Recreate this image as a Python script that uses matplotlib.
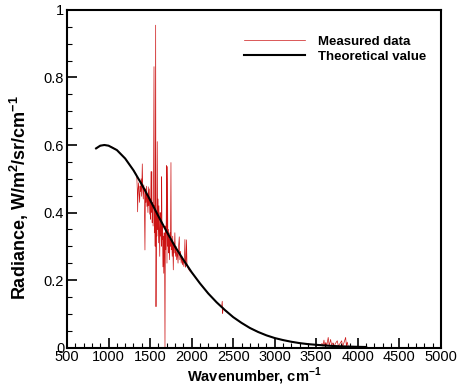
import matplotlib
matplotlib.use("Agg")
import matplotlib.pyplot as plt
from matplotlib.ticker import MultipleLocator, FuncFormatter

plt.rcParams['font.family'] = ['Liberation Sans', 'DejaVu Sans']
plt.rcParams['mathtext.fontset'] = 'custom'
plt.rcParams['mathtext.rm'] = 'Liberation Sans'
plt.rcParams['mathtext.bf'] = 'Liberation Sans:bold'

# theoretical radiance curve
wn_theory = [850, 900, 950, 1000, 1100, 1200, 1300, 1400, 1500, 1600,
             1700, 1800, 1900, 2000, 2100, 2200, 2300, 2400, 2500, 2600,
             2700, 2800, 2900, 3000, 3100, 3200, 3300, 3400, 3500, 3600,
             3700, 3800, 3900, 4000, 4100]
rad_theory = [0.590, 0.598, 0.600, 0.598, 0.585, 0.560, 0.525, 0.483, 0.437, 0.389,
              0.343, 0.299, 0.260, 0.223, 0.190, 0.160, 0.134, 0.111, 0.090, 0.073,
              0.058, 0.046, 0.036, 0.028, 0.022, 0.017, 0.013, 0.010, 0.008, 0.006,
              0.0045, 0.0035, 0.0027, 0.002, 0.0015]

# measured spectrum
wn_meas = [850, 900, 950, 1000, 1050, 1100, 1150, 1200, 1250, 1300, 1330,
           1340, 1346, 1350, 1356, 1362, 1368, 1374, 1380, 1386, 1392, 1398,
           1406, 1412, 1418, 1424, 1430, 1438, 1444, 1450, 1456, 1462, 1468,
           1474, 1478, 1484, 1490, 1496, 1502, 1506, 1511, 1516, 1520, 1525,
           1530, 1536, 1541, 1547, 1551, 1556, 1561, 1567, 1571, 1576, 1581,
           1586, 1591, 1596, 1601, 1606, 1611, 1616, 1621, 1626, 1631, 1636,
           1639, 1644, 1649, 1654, 1659, 1664, 1669, 1674, 1679, 1684, 1689,
           1694, 1699, 1703, 1709, 1714, 1719, 1724, 1729, 1734, 1740, 1745,
           1751, 1755, 1760, 1766, 1772, 1779, 1785, 1791, 1798, 1805, 1812,
           1820, 1828, 1836, 1843, 1851, 1858, 1866, 1874, 1882, 1890, 1898,
           1906, 1912, 1919, 1926, 1932, 1938, 1944, 1952, 1960, 1970, 1980,
           1990, 2000, 2100, 2200, 2300, 2360, 2368, 2373, 2378, 2400, 2500,
           2600, 2700, 2800, 2900, 3000, 3100, 3200, 3300, 3400, 3500, 3550,
           3570, 3580, 3592, 3600, 3615, 3625, 3643, 3655, 3672, 3685, 3700,
           3715, 3730, 3752, 3765, 3780, 3805, 3815, 3830, 3853, 3862, 3872,
           3884, 3900, 4000, 4100]
rad_meas = [0.589, 0.597, 0.600, 0.598, 0.593, 0.585, 0.573, 0.560, 0.543, 0.526, 0.514,
            0.505, 0.467, 0.402, 0.470, 0.488, 0.455, 0.430, 0.478, 0.462, 0.500, 0.448,
            0.544, 0.470, 0.440, 0.482, 0.452, 0.289, 0.470, 0.430, 0.478, 0.418, 0.445,
            0.400, 0.476, 0.420, 0.470, 0.395, 0.440, 0.380, 0.521, 0.400, 0.521, 0.370,
            0.430, 0.360, 0.470, 0.832, 0.340, 0.420, 0.300, 0.955, 0.121, 0.400, 0.330,
            0.610, 0.350, 0.440, 0.310, 0.420, 0.350, 0.270, 0.400, 0.330, 0.380, 0.300,
            0.506, 0.320, 0.360, 0.239, 0.330, 0.220, 0.340, 0.300, 0.000, 0.360, 0.290,
            0.380, 0.539, 0.250, 0.536, 0.300, 0.350, 0.280, 0.320, 0.260, 0.340, 0.300,
            0.548, 0.290, 0.320, 0.270, 0.330, 0.230, 0.310, 0.280, 0.340, 0.270, 0.300,
            0.260, 0.290, 0.250, 0.300, 0.328, 0.260, 0.285, 0.250, 0.270, 0.245, 0.262,
            0.240, 0.255, 0.320, 0.238, 0.250, 0.319, 0.245, 0.238, 0.233, 0.229, 0.226,
            0.224, 0.222, 0.190, 0.160, 0.134, 0.120, 0.137, 0.101, 0.118, 0.111, 0.090,
            0.073, 0.058, 0.046, 0.036, 0.028, 0.022, 0.017, 0.013, 0.010, 0.008, 0.008,
            0.012, 0.004, 0.022, 0.006, 0.015, 0.004, 0.030, 0.005, 0.024, 0.006, 0.014,
            0.003, 0.012, 0.020, 0.004, 0.010, 0.020, 0.003, 0.012, 0.030, 0.004, 0.016,
            0.003, 0.003, 0.002, 0.0015]

fig = plt.figure(figsize=(4.62, 3.92), dpi=100)
ax = fig.add_axes([0.145, 0.1135, 0.8095, 0.861])

ax.plot(wn_meas, rad_meas, color='#cc1515', lw=0.5, label='Measured data')
ax.plot(wn_theory, rad_theory, color='black', lw=1.5, label='Theoretical value')

ax.set_xlim(500, 5000)
ax.set_ylim(0, 1)
ax.xaxis.set_major_locator(MultipleLocator(500))
ax.xaxis.set_minor_locator(MultipleLocator(100))
ax.yaxis.set_major_locator(MultipleLocator(0.2))
ax.yaxis.set_minor_locator(MultipleLocator(0.05))
ax.yaxis.set_major_formatter(FuncFormatter(lambda v, p: '%g' % round(v, 2)))

ax.tick_params(which='both', direction='in', top=False, right=False, labelsize=10.5, pad=2)
ax.tick_params(which='major', length=7, width=1.2)
ax.tick_params(which='minor', length=3.5, width=0.8)
for s in ax.spines.values():
    s.set_linewidth(1.5)

ax.set_xlabel(r'Wavenumber, cm$^{\mathbf{-1}}$', fontsize=10.5, fontweight='bold', labelpad=1)
ax.set_ylabel(r'Radiance, W/m$^{\mathbf{2}}$/sr/cm$^{\mathbf{-1}}$', fontsize=13, fontweight='bold')
ax.yaxis.set_label_coords(-0.095, 0.445)

leg = ax.legend(loc='upper left', bbox_to_anchor=(0.46, 0.94), frameon=False,
                prop={'weight': 'bold', 'size': 9.5}, handlelength=4.6,
                handletextpad=1.0, labelspacing=0.2, borderaxespad=0)

fig.savefig('out.png', dpi=100)
